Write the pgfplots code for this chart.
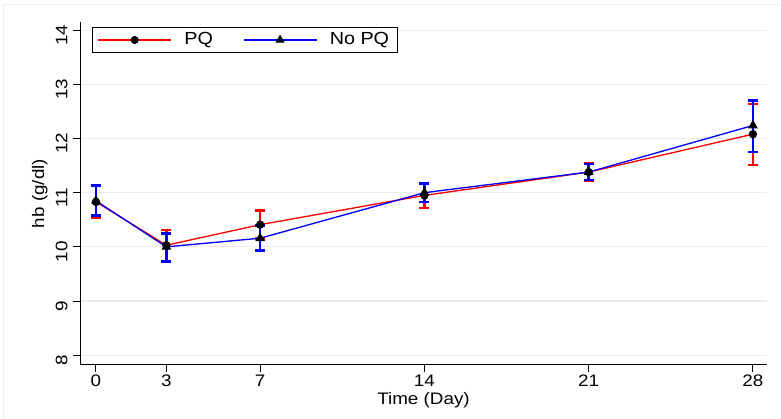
\documentclass[border=0pt]{standalone}
\usepackage{fontspec}
\setmainfont{Liberation Sans}[FakeStretch=1.13]
\usepackage{pgfplots}
\pgfplotsset{compat=1.18}

\begin{document}
\fontsize{10}{12}\selectfont
\begin{tikzpicture}
  \path[use as bounding box] (0,0) rectangle (468.6pt,251.4pt);
  \draw[black!7, line width=0.6pt] (2pt,-2pt) rectangle (472pt,248.4pt);
  \begin{axis}[
    at={(48pt,32.4pt)}, anchor=south west,
    scale only axis, width=412.2pt, height=205.8pt,
    xmin=-0.68, xmax=28.6, ymin=7.82, ymax=14.15,
    axis x line*=bottom, axis y line*=left,
    axis line style={-, line width=0.6pt},
    xtick={0,3,7,14,21,28}, ytick={8,...,14},
    tick align=outside, tick pos=left,
    major tick length=4pt,
    tick style={black, line width=0.6pt},
    yticklabel style={rotate=90, anchor=south, xshift=-3pt},
    xticklabel style={yshift=1.5pt},
    /pgf/number format/assume math mode=true,
    ymajorgrids, grid style={black!8, line width=0.7pt},
    xlabel={Time (Day)}, ylabel={hb (g/dl)},
    xlabel style={yshift=3.5pt},
    ylabel style={yshift=-2pt},
    legend columns=2,
    legend style={at={(0.0175,0.985)}, anchor=north west, draw=black,
      line width=0.6pt, inner xsep=3pt, inner ysep=1pt,
      font=\fontsize{10.5}{12}\selectfont,
      /tikz/every odd column/.append style={column sep=5.5pt},
      /tikz/every even column/.append style={column sep=16pt}},
    error bars/error mark options={rotate=90, mark size=3pt, line width=1.5pt},
  ]
  \addplot[red, line width=0.8pt, mark=*, mark size=2.1pt, mark options={black, fill=black},
    forget plot,
    error bars/.cd, y dir=both, y explicit,
    error bar style={red, line width=1.5pt}]
    coordinates {
    (0,10.83) += (0,0.29) -= (0,0.30)
    (3,10.03) += (0,0.28) -= (0,0.30)
    (7,10.41) += (0,0.26) -= (0,0.26)
    (14,10.95) += (0,0.23) -= (0,0.23)
    (21,11.38) += (0,0.16) -= (0,0.16)
    (28,12.08) += (0,0.56) -= (0,0.57)
  };
  \addplot[blue, line width=0.8pt, mark=triangle*, mark size=2.6pt, mark options={black, fill=black},
    forget plot,
    error bars/.cd, y dir=both, y explicit,
    error bar style={blue, line width=1.5pt}]
    coordinates {
    (0,10.85) += (0,0.28) -= (0,0.27)
    (3,10.00) += (0,0.25) -= (0,0.27)
    (7,10.16) += (0,0.23) -= (0,0.23)
    (14,11.00) += (0,0.17) -= (0,0.17)
    (21,11.38) += (0,0.15) -= (0,0.15)
    (28,12.24) += (0,0.46) -= (0,0.49)
  };
  \addlegendimage{legend image code/.code={%
      \draw[draw=red, line width=0.8pt] (0pt,0pt) -- (43.8pt,0pt);
      \fill[fill=black] (21.9pt,0pt) circle (2.1pt);}}
  \addlegendentry{PQ}
  \addlegendimage{legend image code/.code={%
      \draw[draw=blue, line width=0.8pt] (0pt,0pt) -- (43.8pt,0pt);
      \fill[fill=black] (21.9pt,2.6pt) -- (19.65pt,-1.3pt) -- (24.15pt,-1.3pt) -- cycle;}}
  \addlegendentry{No PQ}
  \end{axis}
\end{tikzpicture}
\end{document}
